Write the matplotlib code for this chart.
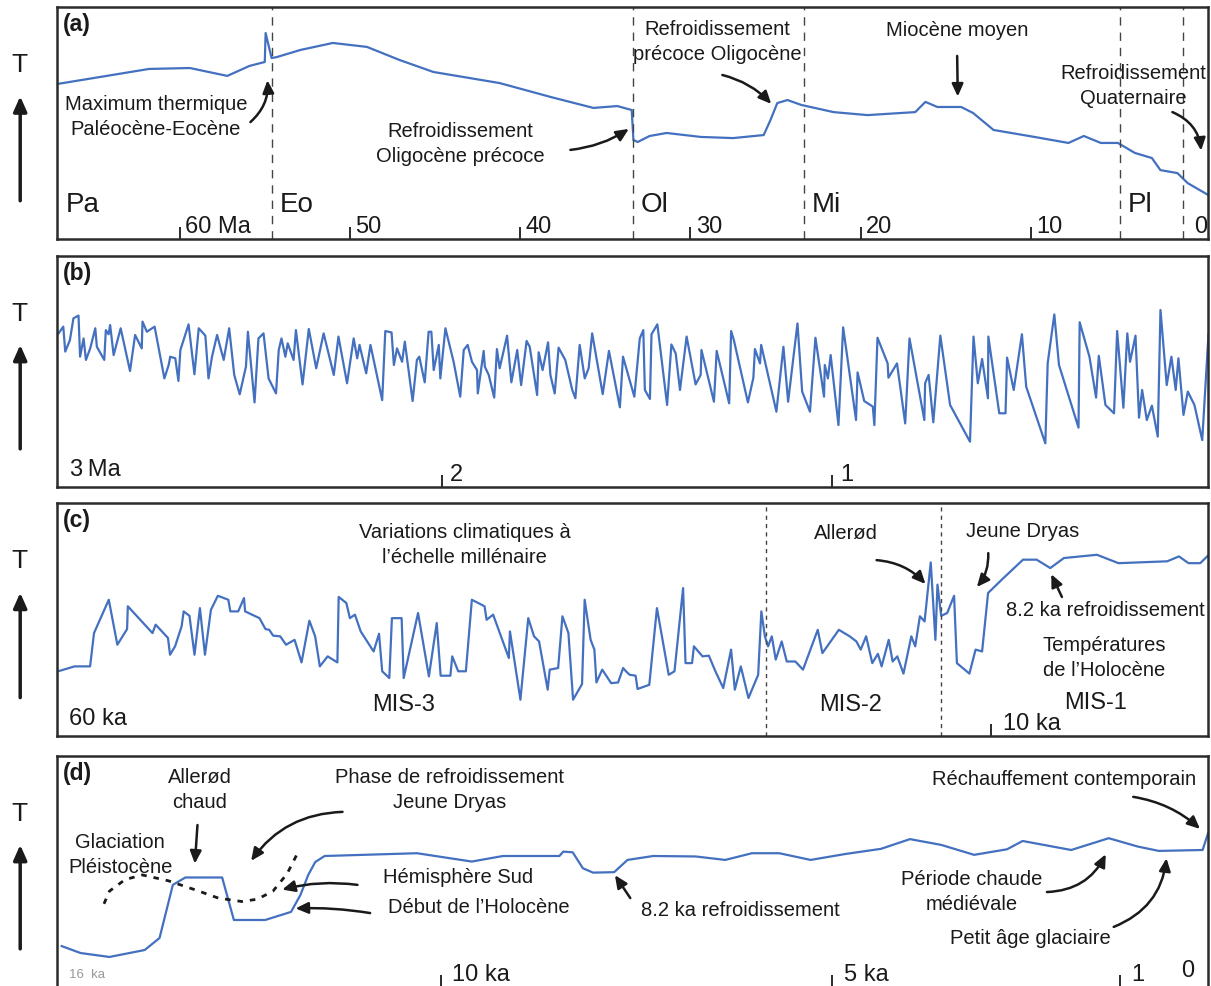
"""
Four-panel schematic of temperature variations over different time scales
(Cenozoic, last 3 Ma, last 60 ka, last 16 ka).
"""

import matplotlib.pyplot as plt

plt.rcParams['font.family'] = ['Liberation Sans', 'DejaVu Sans']

BLUE = '#4470c0'
INK = '#1a1a1a'

# -----------------------------
# (a) Cenozoic, age in Ma, relative temperature index
# -----------------------------
age_a = [67.2, 64.7, 61.8, 59.4, 57.2, 55.9, 55.0, 54.95, 54.6, 54.3,
         52.9, 51.0, 49.0, 47.1, 45.1, 41.2, 38.2, 35.7, 34.3, 33.45,
         33.35, 33.1, 32.4, 31.4, 29.4, 27.5, 25.7, 25.3, 24.9, 24.3,
         23.5, 21.6, 19.6, 16.8, 16.2, 15.5, 14.1, 13.4, 12.2, 9.8,
         7.8, 6.9, 5.9, 4.9, 3.9, 2.9, 2.4, 1.4, 0.8, -0.4]
temp_a = [66.8, 69.8, 73.3, 73.7, 70.3, 74.6, 76.3, 88.8, 78.0, 78.4,
          81.5, 84.5, 82.8, 77.2, 72.0, 67.2, 61.2, 56.5, 57.3, 55.6,
          42.7, 41.8, 44.4, 45.7, 44.0, 43.5, 44.8, 51.3, 58.6, 59.9,
          57.8, 54.7, 53.4, 54.7, 59.1, 56.9, 56.9, 54.3, 47.0, 44.0,
          41.4, 44.4, 41.4, 41.4, 37.1, 34.9, 29.7, 28.4, 24.1, 19.0]
epoch_names = ["Pa", "Eo", "Ol", "Mi", "Pl"]
epoch_starts = [67.2, 54.6, 33.4, 23.35, 4.8]
epoch_lines = [54.6, 33.4, 23.35, 4.8, 1.1]
ticks_a = [60, 50, 40, 30, 20, 10]
ticklabels_a = ["60 Ma", "50", "40", "30", "20", "10"]

# -----------------------------
# (b) last 3 Ma
# -----------------------------
age_b = [2.981, 2.969, 2.964, 2.952, 2.943, 2.930, 2.926, 2.917, 2.911, 2.900,
         2.887, 2.883, 2.864, 2.860, 2.853, 2.849, 2.840, 2.822, 2.798, 2.785,
         2.768, 2.766, 2.755, 2.735, 2.710, 2.699, 2.695, 2.682, 2.674, 2.669,
         2.648, 2.633, 2.622, 2.605, 2.597, 2.588, 2.575, 2.558, 2.544, 2.531,
         2.517, 2.501, 2.496, 2.479, 2.469, 2.456, 2.443, 2.424, 2.417, 2.410,
         2.400, 2.394, 2.379, 2.373, 2.356, 2.340, 2.321, 2.302, 2.276, 2.264,
         2.242, 2.225, 2.216, 2.210, 2.193, 2.182, 2.152, 2.144, 2.128, 2.122,
         2.114, 2.101, 2.094, 2.074, 2.063, 2.057, 2.043, 2.033, 2.026, 2.020,
         2.007, 2.003, 1.990, 1.969, 1.952, 1.943, 1.933, 1.922, 1.909, 1.907,
         1.892, 1.889, 1.879, 1.865, 1.858, 1.851, 1.832, 1.821, 1.806, 1.796,
         1.782, 1.774, 1.755, 1.751, 1.741, 1.727, 1.721, 1.710, 1.700, 1.683,
         1.665, 1.657, 1.646, 1.633, 1.623, 1.614, 1.587, 1.571, 1.543, 1.535,
         1.506, 1.492, 1.483, 1.479, 1.466, 1.462, 1.447, 1.422, 1.411, 1.400,
         1.389, 1.372, 1.349, 1.336, 1.334, 1.302, 1.295, 1.263, 1.258, 1.251,
         1.215, 1.201, 1.197, 1.184, 1.181, 1.142, 1.124, 1.112, 1.088, 1.076,
         1.056, 1.042, 1.020, 1.018, 1.010, 1.003, 0.983, 0.971, 0.938, 0.934,
         0.917, 0.895, 0.891, 0.883, 0.857, 0.855, 0.833, 0.812, 0.801, 0.763,
         0.761, 0.752, 0.740, 0.722, 0.697, 0.646, 0.637, 0.626, 0.615, 0.600,
         0.599, 0.571, 0.555, 0.551, 0.534, 0.513, 0.502, 0.453, 0.447, 0.430,
         0.418, 0.368, 0.365, 0.340, 0.323, 0.316, 0.299, 0.277, 0.269, 0.253,
         0.243, 0.236, 0.222, 0.213, 0.205, 0.193, 0.180, 0.165, 0.158, 0.142,
         0.130, 0.119, 0.112, 0.099, 0.088, 0.071, 0.051, 0.035]
temp_b = [66.5, 69.4, 58.6, 63.6, 73.0, 74.2, 56.4, 64.3, 55.0, 60.0,
          68.7, 60.7, 55.0, 67.9, 66.1, 70.1, 57.1, 68.7, 50.2, 65.8,
          60.0, 71.6, 67.2, 69.4, 47.0, 52.8, 56.4, 55.7, 45.9, 59.3,
          70.4, 48.8, 68.7, 65.5, 47.0, 56.4, 65.8, 55.0, 68.7, 48.5,
          40.1, 52.1, 67.2, 36.6, 64.3, 66.5, 47.0, 40.5, 59.3, 64.3,
          56.4, 62.2, 55.0, 67.9, 44.4, 68.4, 51.4, 66.5, 48.5, 65.1,
          44.9, 64.3, 55.7, 61.5, 49.2, 61.5, 37.6, 67.5, 66.9, 52.8,
          60.0, 54.2, 62.9, 37.2, 55.0, 56.4, 45.3, 67.2, 67.2, 50.6,
          61.5, 47.0, 68.7, 54.2, 39.1, 59.3, 61.5, 54.2, 50.6, 40.5,
          58.9, 52.1, 48.5, 38.7, 59.7, 51.4, 65.5, 45.3, 59.3, 44.1,
          63.2, 60.7, 39.8, 58.3, 50.6, 62.6, 48.5, 40.5, 60.3, 55.0,
          42.0, 38.4, 61.5, 47.0, 51.4, 66.5, 40.2, 58.9, 34.5, 56.4,
          39.1, 64.3, 67.9, 42.0, 38.1, 66.1, 70.4, 35.5, 61.7, 57.8,
          42.0, 65.1, 44.4, 48.5, 59.3, 36.9, 58.9, 36.2, 67.5, 63.6,
          36.6, 47.3, 59.7, 53.5, 61.5, 32.6, 60.7, 36.9, 70.8, 41.3,
          32.6, 64.6, 39.1, 52.8, 47.0, 57.1, 26.8, 69.1, 29.0, 49.6,
          37.2, 34.8, 26.8, 64.6, 53.5, 47.3, 53.5, 27.5, 64.3, 29.0,
          44.9, 48.5, 28.0, 65.5, 35.5, 19.6, 65.1, 44.9, 55.4, 38.4,
          65.1, 31.9, 31.9, 56.0, 42.0, 66.1, 43.4, 18.9, 53.5, 74.7,
          52.8, 25.7, 71.3, 56.4, 38.7, 56.8, 35.5, 31.9, 67.5, 34.3,
          66.5, 54.2, 65.5, 30.0, 42.0, 29.0, 35.2, 21.8, 76.6, 44.1,
          56.4, 42.0, 55.7, 31.2, 41.3, 35.5, 20.3, 66.1]
ticks_b = [2, 1]
ticklabels_b = ["2", "1"]

# -----------------------------
# (c) last 60 ka
# -----------------------------
age_c = [59.94, 59.06, 58.23, 58.02, 57.23, 56.77, 56.25, 56.21, 54.89, 54.72,
         54.06, 53.95, 53.68, 53.33, 53.22, 52.91, 52.64, 52.35, 52.08, 51.76,
         51.39, 50.83, 50.72, 50.30, 49.99, 49.93, 49.16, 48.84, 48.64, 48.43,
         48.05, 47.74, 47.28, 46.91, 46.49, 46.18, 45.93, 45.51, 44.99, 44.92,
         44.51, 44.32, 44.05, 43.74, 43.05, 42.76, 42.59, 42.21, 42.07, 41.55,
         41.44, 40.67, 40.09, 39.67, 39.46, 38.94, 38.84, 38.52, 38.11, 37.79,
         37.11, 37.00, 36.65, 35.81, 35.75, 35.19, 34.77, 34.46, 34.19, 33.73,
         33.62, 33.17, 32.94, 32.62, 32.37, 31.89, 31.75, 31.43, 31.23, 31.12,
         30.81, 30.33, 29.96, 29.69, 29.54, 29.34, 29.02, 28.92, 28.29, 27.88,
         27.25, 26.94, 26.48, 26.35, 26.00, 25.90, 25.44, 25.10, 24.75, 24.33,
         23.91, 23.71, 23.39, 22.98, 22.46, 22.29, 22.10, 21.93, 21.73, 21.52,
         21.20, 20.93, 20.47, 20.06, 19.27, 19.02, 18.14, 17.56, 17.20, 16.97,
         16.68, 16.35, 16.05, 15.85, 15.47, 15.26, 15.01, 14.68, 14.26, 14.05,
         13.80, 13.55, 13.22, 12.97, 12.86, 12.66, 12.34, 11.97, 11.82, 11.15,
         10.82, 10.47, 10.15, 9.42, 8.28, 7.55, 6.82, 6.09, 4.32, 3.17,
         0.56, -0.07, -0.58, -1.21, -1.67]
temp_c = [27.8, 29.9, 29.9, 44.2, 58.5, 39.2, 45.9, 55.7, 44.2, 47.8,
          42.1, 34.9, 38.5, 47.1, 53.5, 51.6, 34.9, 54.9, 34.9, 54.2,
          60.2, 58.5, 53.5, 53.5, 59.2, 53.5, 50.6, 45.9, 45.6, 43.1,
          42.8, 39.2, 41.3, 31.6, 49.5, 42.8, 29.9, 34.2, 31.6, 59.7,
          57.1, 50.6, 52.1, 44.9, 36.3, 43.9, 27.8, 24.9, 50.6, 50.6,
          24.9, 52.8, 25.6, 48.5, 25.9, 25.9, 34.2, 27.8, 27.8, 58.5,
          55.7, 49.9, 52.1, 33.5, 44.9, 15.6, 50.6, 42.8, 40.6, 19.9,
          28.5, 29.2, 51.4, 44.2, 15.6, 22.3, 58.5, 41.3, 37.1, 23.0,
          28.5, 22.7, 23.0, 29.2, 27.8, 26.3, 25.9, 20.2, 22.0, 54.9,
          26.3, 27.8, 63.5, 31.3, 31.3, 38.5, 34.2, 34.5, 27.8, 20.6,
          37.1, 19.9, 29.9, 16.3, 26.3, 53.5, 42.8, 38.5, 42.8, 32.8,
          40.6, 32.0, 32.0, 28.5, 45.6, 35.6, 45.6, 42.8, 40.6, 37.1,
          42.8, 31.3, 35.3, 29.9, 41.3, 32.0, 34.2, 26.8, 42.8, 38.5,
          51.4, 49.2, 74.5, 41.3, 65.0, 51.6, 52.8, 60.2, 31.3, 26.8,
          37.1, 36.3, 61.4, 67.1, 75.7, 75.7, 72.1, 76.4, 77.8, 74.2,
          75.0, 77.1, 74.2, 74.2, 77.8]
mis_lines = [22.06, 12.68]
ticks_c = [10]
ticklabels_c = ["10 ka"]

# -----------------------------
# (d) last 16 ka
# -----------------------------
age_d = [14.85, 14.61, 14.24, 13.79, 13.60, 13.43, 13.27, 12.80, 12.65, 12.25,
         11.92, 11.80, 11.70, 11.61, 11.49, 10.31, 9.61, 9.21, 8.49, 8.44,
         8.32, 8.19, 8.06, 7.79, 7.62, 7.29, 6.75, 6.37, 6.03, 5.68,
         5.28, 4.83, 4.38, 4.01, 3.61, 3.19, 2.77, 2.57, 1.95, 1.47,
         1.10, 0.83, 0.27, 0.20]
temp_d = [17.7, 14.7, 13.0, 16.0, 21.2, 44.2, 47.4, 47.4, 29.0, 29.0,
          32.5, 39.8, 48.5, 54.1, 56.7, 57.9, 54.3, 56.7, 56.7, 58.6,
          58.3, 51.4, 49.5, 49.7, 55.0, 56.7, 56.5, 55.0, 57.9, 57.9,
          55.0, 57.6, 59.8, 64.0, 61.5, 57.2, 59.6, 63.2, 59.3, 64.4,
          60.8, 58.9, 59.3, 66.6]
# Southern hemisphere (dotted)
age_sh = [14.31, 14.24, 14.04, 13.82, 13.49, 13.14, 12.85, 12.55, 12.35, 12.15,
          11.97, 11.85]
temp_sh = [36.0, 41.5, 46.5, 48.5, 46.0, 42.0, 38.5, 37.0, 38.0, 41.5,
           49.0, 57.0]
ticks_d = [10, 5, 1.33]
ticklabels_d = ["10 ka", "5 ka", "1"]


def make_panel(fig, rect, xlim, label):
    ax = fig.add_axes(rect)
    ax.set_xlim(*xlim)
    ax.set_ylim(0, 100)
    ax.set_yticks([])
    for spine in ax.spines.values():
        spine.set_linewidth(1.8)
        spine.set_color('#2b2b2b')
    ax.tick_params(axis='x', direction='in', length=9, width=1.3,
                   colors=INK, labelbottom=False, top=False)
    ax.text(0.005, 0.925, label, transform=ax.transAxes, fontsize=16.5,
            fontweight='bold', color=INK, ha='left', va='center')
    # "T" with upward arrow on the left
    ax.text(-0.033, 0.75, "T", transform=ax.transAxes, fontsize=19,
            color=INK, ha='center', va='center')
    ax.annotate("", xy=(-0.032, 0.615), xytext=(-0.032, 0.165),
                xycoords='axes fraction', annotation_clip=False,
                arrowprops=dict(arrowstyle='-|>,head_length=0.9,head_width=0.4',
                                lw=2.5, color=INK, shrinkA=0, shrinkB=0))
    return ax


def add_ticks(ax, positions, labels, gap=3, size=17):
    ax.set_xticks(positions)
    for pos, lab in zip(positions, labels):
        ax.annotate(lab, xy=(pos, 0), xycoords=ax.get_xaxis_transform(),
                    xytext=(gap, 1), textcoords='offset points',
                    ha='left', va='bottom', fontsize=size, color=INK)


def note(ax, text, xy_text, tip=None, tail=None, rad=0.0, ha='center', size=14.5):
    ax.text(xy_text[0], xy_text[1], text, transform=ax.transAxes,
            ha=ha, va='center', fontsize=size, linespacing=1.4, color=INK)
    if tip is not None:
        ax.annotate("", xy=tip, xycoords='data',
                    xytext=tail, textcoords='axes fraction',
                    arrowprops=dict(arrowstyle='-|>,head_length=0.75,head_width=0.34',
                                    lw=1.8, color=INK, shrinkA=0, shrinkB=1,
                                    connectionstyle=f'arc3,rad={rad}'))


def main():
    fig = plt.figure(figsize=(12.11, 9.86), dpi=100)
    left, width = 0.0471, 0.9505

    # -----------------------------
    # Panel (a)
    # -----------------------------
    ax = make_panel(fig, [left, 0.7576, width, 0.2353], (67.2, -0.4), "(a)")
    ax.plot(age_a, temp_a, color=BLUE, lw=1.6)
    for x in epoch_lines:
        ax.axvline(x, color='#444444', lw=1.0, ls=(0, (6, 5)))
    for name, start in zip(epoch_names, epoch_starts):
        ax.annotate(name, xy=(start, 0.147), xycoords=ax.get_xaxis_transform(),
                    xytext=(6, 0), textcoords='offset points',
                    ha='left', va='center', fontsize=20, color=INK)
    add_ticks(ax, ticks_a, ticklabels_a, gap=4)
    ax.annotate("0", xy=(0, 0), xycoords=ax.get_xaxis_transform(),
                xytext=(4, 1), textcoords='offset points',
                ha='right', va='bottom', fontsize=17, color=INK)
    note(ax, "Maximum thermique\nPaléocène-Eocène", (0.086, 0.524),
         tip=(54.85, 69.0), tail=(0.168, 0.504), rad=0.25)
    note(ax, "Refroidissement\nOligocène précoce", (0.350, 0.409),
         tip=(33.55, 47.8), tail=(0.446, 0.384), rad=0.12)
    note(ax, "Refroidissement\nprécoce Oligocène", (0.574, 0.847),
         tip=(25.2, 57.8), tail=(0.578, 0.707), rad=-0.15)
    note(ax, "Miocène moyen", (0.782, 0.897),
         tip=(14.3, 60.8), tail=(0.782, 0.789), rad=0.0)
    note(ax, "Refroidissement\nQuaternaire", (0.935, 0.659),
         tip=(0.0, 37.5), tail=(0.969, 0.547), rad=-0.3)

    # -----------------------------
    # Panel (b)
    # -----------------------------
    ax = make_panel(fig, [left, 0.5061, width, 0.2343], (2.985, 0.036), "(b)")
    ax.plot(age_b, temp_b, color=BLUE, lw=1.6)
    add_ticks(ax, ticks_b, ticklabels_b, gap=6)
    ax.text(0.011, 0.075, "3\u2009Ma", transform=ax.transAxes, fontsize=17,
            color=INK, ha='left', va='center')

    # -----------------------------
    # Panel (c)
    # -----------------------------
    ax = make_panel(fig, [left, 0.2535, width, 0.2363], (60.0, -1.63), "(c)")
    ax.plot(age_c, temp_c, color=BLUE, lw=1.6)
    for x in mis_lines:
        ax.axvline(x, color='#444444', lw=1.0, ls=(0, (3, 3)))
    add_ticks(ax, ticks_c, ticklabels_c, gap=9)
    ax.text(0.010, 0.072, "60 ka", transform=ax.transAxes, fontsize=17,
            color=INK, ha='left', va='center')
    note(ax, "MIS-3", (0.301, 0.133), size=17)
    note(ax, "MIS-2", (0.689, 0.133), size=17)
    note(ax, "MIS-1", (0.902, 0.142), size=17)
    note(ax, "Variations climatiques à\nl\u2019échelle millénaire", (0.354, 0.818))
    note(ax, "Allerød", (0.685, 0.871),
         tip=(13.45, 64.8), tail=(0.712, 0.755), rad=-0.2)
    note(ax, "Jeune Dryas", (0.839, 0.876),
         tip=(10.8, 63.5), tail=(0.809, 0.785), rad=-0.2)
    note(ax, "8.2 ka refroidissement", (0.911, 0.541),
         tip=(6.8, 70.0), tail=(0.873, 0.597), rad=0.0)
    note(ax, "Températures\nde l\u2019Holocène", (0.910, 0.335))

    # -----------------------------
    # Panel (d)
    # -----------------------------
    ax = make_panel(fig, [left, -0.001, width, 0.2343], (14.91, 0.2), "(d)")
    ax.plot(age_d, temp_d, color=BLUE, lw=1.6)
    ax.plot(age_sh, temp_sh, color=INK, lw=2.0, ls=(0, (2, 2.5)))
    add_ticks(ax, ticks_d, ticklabels_d, gap=8)
    ax.annotate("0", xy=(0.2, 0.02), xycoords=('data', 'axes fraction'),
                xytext=(-10, 0), textcoords='offset points',
                ha='right', va='bottom', fontsize=17, color=INK)
    ax.text(0.010, 0.052, "16  ka", transform=ax.transAxes, fontsize=9.5,
            color='#999999', ha='left', va='center')
    note(ax, "Allerød\nchaud", (0.124, 0.851),
         tip=(13.15, 52.8), tail=(0.122, 0.701), rad=0.0)
    note(ax, "Glaciation\nPléistocène", (0.055, 0.571))
    note(ax, "Phase de refroidissement\nJeune Dryas", (0.341, 0.853),
         tip=(12.44, 54.1), tail=(0.248, 0.758), rad=0.25)
    note(ax, "Hémisphère Sud", (0.348, 0.472),
         tip=(12.05, 42.0), tail=(0.261, 0.442), rad=0.1)
    note(ax, "Début de l\u2019Holocène", (0.366, 0.346),
         tip=(11.88, 34.0), tail=(0.272, 0.320), rad=0.05)
    note(ax, "8.2 ka refroidissement", (0.507, 0.333), ha='left',
         tip=(7.79, 48.9), tail=(0.498, 0.385), rad=0.0)
    note(ax, "Réchauffement contemporain", (0.875, 0.896),
         tip=(0.29, 68.0), tail=(0.935, 0.823), rad=-0.15)
    note(ax, "Période chaude\nmédiévale", (0.795, 0.413),
         tip=(1.5, 58.0), tail=(0.860, 0.411), rad=0.3)
    note(ax, "Petit âge glaciaire", (0.846, 0.212),
         tip=(0.73, 56.3), tail=(0.918, 0.260), rad=0.3)

    fig.savefig("out.png", dpi=100)
    plt.close(fig)


if __name__ == "__main__":
    main()
